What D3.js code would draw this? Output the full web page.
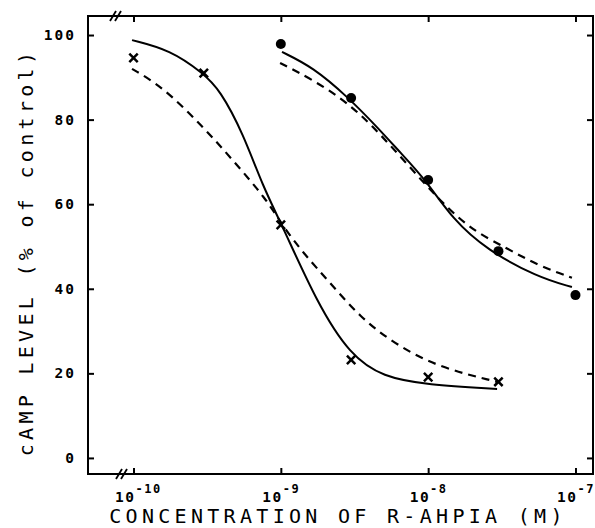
<!DOCTYPE html>
<html>
<head>
<meta charset="utf-8">
<script src="https://cdn.jsdelivr.net/npm/d3@7"></script>
<style>
  body { margin: 0; background: #fff; }
  text { font-family: "DejaVu Sans Mono", monospace; fill: #000; }
</style>
</head>
<body>
<div class="canvas"></div>
<script>
//DATA
var crossConc = [1e-10, 3e-10, 1e-9, 3e-9, 1e-8, 3e-8];
var crossVal  = [94.6, 91.0, 55.1, 23.2, 19.1, 18.0];
var dotConc = [1e-9, 3e-9, 1e-8, 3e-8, 1e-7];
var dotVal  = [97.9, 85.1, 65.7, 48.9, 38.5];

// fitted curves (log10 of concentration, % of control)
var leftSolidLog = [-10.01, -9.752, -9.528, -9.413, -9.257, -9.121, -8.992, -8.754, -8.530, -8.306, -8.007, -7.532];
var leftSolidVal = [98.8, 96.5, 91.0, 87.0, 76.8, 64.1, 55.1, 36.6, 24.3, 19.1, 17.3, 16.3];
var leftDashLog = [-10.01, -9.800, -9.528, -9.325, -9.094, -8.992, -8.849, -8.666, -8.462, -8.238, -7.940, -7.532];
var leftDashVal = [92.0, 87.7, 78.3, 70.4, 61.0, 55.1, 48.5, 41.4, 33.3, 27.2, 21.5, 18.0];
var rightSolidLog = [-8.992, -8.782, -8.544, -8.348, -8.191, -8.015, -7.831, -7.601, -7.261, -7.024];
var rightSolidVal = [96.0, 92.4, 85.3, 78.3, 72.3, 65.7, 56.3, 49.2, 42.8, 40.4];
var rightDashLog = [-9.005, -8.782, -8.551, -8.327, -8.008, -7.736, -7.465, -7.261, -7.024];
var rightDashVal = [93.4, 89.4, 84.2, 76.8, 64.1, 54.4, 49.6, 45.6, 42.6];

var xTicks = [1e-10, 1e-9, 1e-8, 1e-7];
var xTickExp = ['-10', '-9', '-8', '-7'];
var yTicks = [0, 20, 40, 60, 80, 100];

//VIZ DIMENSIONS
var w = 595, h = 528;
var margin = { left: 88, top: 16, right: 2, bottom: 54 };
var width = w - margin.left - margin.right;
var height = h - margin.top - margin.bottom;

var svg = d3.select('.canvas').append('svg')
    .attr('width', w)
    .attr('height', h);

var g = svg.append('g')
    .attr('transform', 'translate(' + margin.left + ',' + margin.top + ')');

//SCALES
var x = d3.scaleLog()
    .domain([Math.pow(10, -10.309), Math.pow(10, -6.881)])
    .range([0, width]);
var y = d3.scaleLinear()
    .domain([-3.8, 104.5])
    .range([height, 0]);

//FRAME
g.append('rect')
    .attr('width', width).attr('height', height)
    .attr('fill', 'none').attr('stroke', '#000').attr('stroke-width', 2);

//AXES (ticks pointing inwards on all four sides)
g.append('g').call(d3.axisLeft(y).tickValues(yTicks).tickSize(-6).tickPadding(12).tickFormat(d3.format('d')))
    .call(a => a.select('.domain').remove())
    .call(a => a.selectAll('line').attr('stroke-width', 2))
    .call(a => a.selectAll('text').attr('font-size', 14.5).attr('font-weight', 'bold').attr('letter-spacing', 2));

g.append('g').attr('transform', 'translate(' + width + ',0)')
    .call(d3.axisRight(y).tickValues(yTicks).tickSize(-6).tickFormat(''))
    .call(a => a.select('.domain').remove())
    .call(a => a.selectAll('line').attr('stroke-width', 2));

g.append('g').call(d3.axisTop(x).tickValues(xTicks).tickSize(-6).tickFormat(''))
    .call(a => a.select('.domain').remove())
    .call(a => a.selectAll('line').attr('stroke-width', 2));

var xAxis = g.append('g').attr('transform', 'translate(0,' + height + ')')
    .call(d3.axisBottom(x).tickValues(xTicks).tickSize(-6).tickFormat(''))
    .call(a => a.select('.domain').remove())
    .call(a => a.selectAll('line').attr('stroke-width', 2));

// 10^n labels
xAxis.selectAll('.tick').append('text')
    .attr('x', -19).attr('y', 28)
    .attr('text-anchor', 'start')
    .attr('font-size', 14.5).attr('font-weight', 'bold').attr('letter-spacing', 1.5)
    .each(function(d, i) {
        var t = d3.select(this);
        t.append('tspan').text('10');
        t.append('tspan').attr('dy', -9).attr('font-size', 12).text(xTickExp[i]);
    });

//AXIS BREAKS
[[0, 25], [height, 31]].forEach(function(b) {
    [0, 5].forEach(function(off) {
        g.append('line')
            .attr('x1', b[1] + off - 3).attr('y1', b[0] + 5)
            .attr('x2', b[1] + off + 3).attr('y2', b[0] - 5)
            .attr('stroke', '#000').attr('stroke-width', 1.8);
    });
});

//CURVES
var line = d3.line()
    .x(d => x(Math.pow(10, d[0])))
    .y(d => y(d[1]))
    .curve(d3.curveBasis);

function drawCurve(logs, vals, dashed) {
    g.append('path')
        .datum(logs.map((l, i) => [l, vals[i]]))
        .attr('d', line)
        .attr('fill', 'none')
        .attr('stroke', '#000')
        .attr('stroke-width', dashed ? 2.2 : 2)
        .attr('stroke-dasharray', dashed ? '8,6' : null);
}
drawCurve(leftSolidLog, leftSolidVal, false);
drawCurve(leftDashLog, leftDashVal, true);
drawCurve(rightSolidLog, rightSolidVal, false);
drawCurve(rightDashLog, rightDashVal, true);

//POINTS
g.selectAll('.cross')
    .data(crossConc.map((c, i) => [c, crossVal[i]]))
    .enter().append('path')
    .attr('class', 'cross')
    .attr('transform', d => 'translate(' + x(d[0]) + ',' + y(d[1]) + ')')
    .attr('d', 'M-4.2,-4.2L4.2,4.2M-4.2,4.2L4.2,-4.2')
    .attr('stroke', '#000').attr('stroke-width', 2.5);

g.selectAll('.dot')
    .data(dotConc.map((c, i) => [c, dotVal[i]]))
    .enter().append('circle')
    .attr('class', 'dot')
    .attr('cx', d => x(d[0]))
    .attr('cy', d => y(d[1]))
    .attr('r', 5)
    .attr('fill', '#000');

//AXIS TITLES
svg.append('text')
    .attr('x', 338).attr('y', 523)
    .attr('text-anchor', 'middle')
    .attr('font-size', 20).attr('letter-spacing', 4.3)
    .text('CONCENTRATION OF R-AHPIA (M)');

svg.append('text')
    .attr('transform', 'translate(33,252) rotate(-90)')
    .attr('text-anchor', 'middle')
    .attr('font-size', 20).attr('letter-spacing', 4.3)
    .text('cAMP LEVEL (% of control)');
</script>
</body>
</html>
